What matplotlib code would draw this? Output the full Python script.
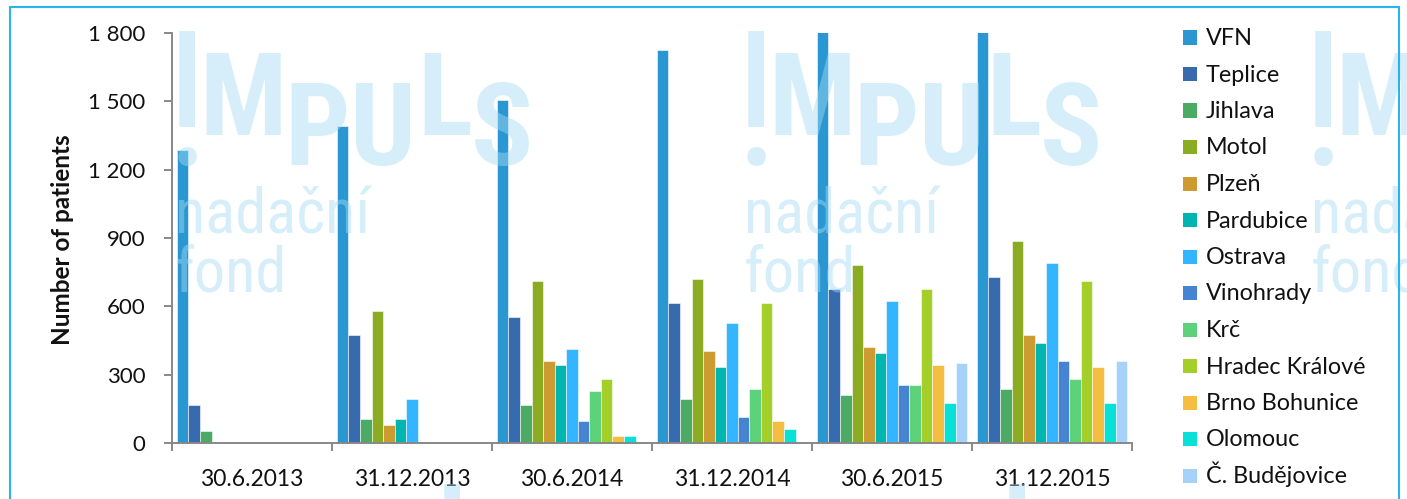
import numpy as np
import matplotlib
matplotlib.use("Agg")
import matplotlib.pyplot as plt
from matplotlib.ticker import FuncFormatter, FixedLocator
from matplotlib.patches import Rectangle
from matplotlib import font_manager

# ---------------- data ----------------
categories = ["30.6.2013", "31.12.2013", "30.6.2014", "31.12.2014", "30.6.2015", "31.12.2015"]
hospitals = ["VFN", "Teplice", "Jihlava", "Motol", "Plzeň", "Pardubice", "Ostrava",
             "Vinohrady", "Krč", "Hradec Králové", "Brno Bohunice", "Olomouc", "Č. Budějovice"]
vfn       = [1285, 1390, 1505, 1725, 1880, 1990]
teplice   = [168, 475, 554, 615, 676, 729]
jihlava   = [54, 107, 168, 194, 212, 238]
motol     = [None, 579, 710, 720, 781, 887]
plzen     = [None, 80, 361, 405, 423, 475]
pardubice = [None, 107, 344, 335, 396, 440]
ostrava   = [None, 194, 414, 528, 623, 789]
vinohrady = [None, None, 98, 115, 256, 361]
krc       = [None, None, 230, 238, 256, 282]
hradec    = [None, None, 282, 613, 676, 710]
brno      = [None, None, 29, 98, 344, 335]
olomouc   = [None, None, 29, 63, 177, 177]
budejovice = [None, None, None, None, 353, 361]
series = [vfn, teplice, jihlava, motol, plzen, pardubice, ostrava,
          vinohrady, krc, hradec, brno, olomouc, budejovice]
colors = ["#2A96D2", "#376BAE", "#4BAA64", "#8AAB22", "#CC9C33", "#00B5B0", "#33B6FF",
          "#4684D2", "#5DD27A", "#A4CF28", "#F4BE41", "#08E0D8", "#A6D2FA"]
y_ticks = [0, 300, 600, 900, 1200, 1500, 1800]
y_label = "Number of patients"

# ---------------- figure ----------------
W, H = 1407, 499
fig = plt.figure(figsize=(W / 100, H / 100), dpi=100)
plt.rcParams['font.family'] = ['Lato', 'DejaVu Sans']

def px(x, y):
    return x / W, 1 - y / H

ax = fig.add_axes([172 / W, 1 - 443 / H, (1132 - 172) / W, (443 - 33) / H])

n = len(series)
margin = 0.03
bw = (1 - 2 * margin) / n
x = np.arange(len(categories))
for i, (vals, name, col) in enumerate(zip(series, hospitals, colors)):
    v = np.array([np.nan if a is None else a for a in vals], dtype=float)
    ax.bar(x + margin + bw * (i + 0.5), v, width=bw, color=col, label=name,
           edgecolor=(1, 1, 1, 0.55), linewidth=0.7, zorder=2)

ax.set_xlim(0, len(categories))
ax.set_ylim(0, 1800)
ax.set_yticks(y_ticks)
ax.yaxis.set_major_formatter(FuncFormatter(lambda v, p: f"{int(v):,}".replace(",", " ")))
ax.xaxis.set_major_locator(FixedLocator(np.arange(len(categories) + 1)))
ax.xaxis.set_minor_locator(FixedLocator(x + 0.5))
ax.set_xticklabels([], minor=False)
ax.set_xticklabels(categories, minor=True)

for s in ["top", "right"]:
    ax.spines[s].set_visible(False)
for s in ["left", "bottom"]:
    ax.spines[s].set_color("#888888")
    ax.spines[s].set_linewidth(1.4)
ax.tick_params(axis="y", length=6, width=1.4, color="#888888", labelsize=16, pad=13,
               labelcolor="#111111")
ax.tick_params(axis="x", which="major", length=6, width=1.4, color="#888888")
ax.tick_params(axis="x", which="minor", length=0, labelsize=16.5, pad=19, labelcolor="#111111")

fig.text(*px(63, 240), y_label, rotation=90, ha="center", va="center",
         fontsize=17.5, fontweight="bold", color="#111111")

# legend (fixed row pitch)
for i, (name, col) in enumerate(zip(hospitals, colors)):
    yc = 37.5 + 36.5 * i
    fig.patches.append(Rectangle(px(1183, yc + 7), 14 / W, 14 / H, facecolor=col,
                                 edgecolor="none", transform=fig.transFigure, zorder=6))
    fig.text(*px(1206, yc + 7.5), name, fontsize=16.8, color="#111111",
             ha="left", va="baseline", zorder=6)

# outer frame
fig.patches.append(Rectangle(px(10, 510), (1399 - 10) / W, (510 - 7) / H, fill=False,
                             edgecolor="#2BB3EE", linewidth=1.5, transform=fig.transFigure,
                             zorder=10))

# ---------------- watermark ----------------
names = {f.name for f in font_manager.fontManager.ttflist}
wm_font = "Roboto Condensed" if "Roboto Condensed" in names else "Roboto"
wm_col = "#A6DBF5"
wm_alpha = 0.45

def watermark(x0, y0):
    kw = dict(color=wm_col, alpha=wm_alpha, family=wm_font, zorder=8, va="baseline", ha="center")
    fig.text(*px(x0 + 8.5, y0 + 133), "!", fontsize=135, **kw)
    for ch, cx, base in [("M", 65, 103), ("P", 139.5, 133), ("U", 204.5, 133),
                         ("L", 267, 103), ("S", 324, 133)]:
        fig.text(*px(x0 + cx, y0 + base), ch, fontsize=83, fontweight="bold", **kw)
    kw["ha"] = "left"
    fig.text(*px(x0 - 3, y0 + 201), "nadační", fontsize=45, **kw)
    fig.text(*px(x0 - 3, y0 + 260), "fond", fontsize=45, **kw)

for x0 in [178, 747, 1314]:
    watermark(x0, 32)
for x0 in [443, 1008]:
    watermark(x0, 485)

fig.savefig("out.png", dpi=100)
